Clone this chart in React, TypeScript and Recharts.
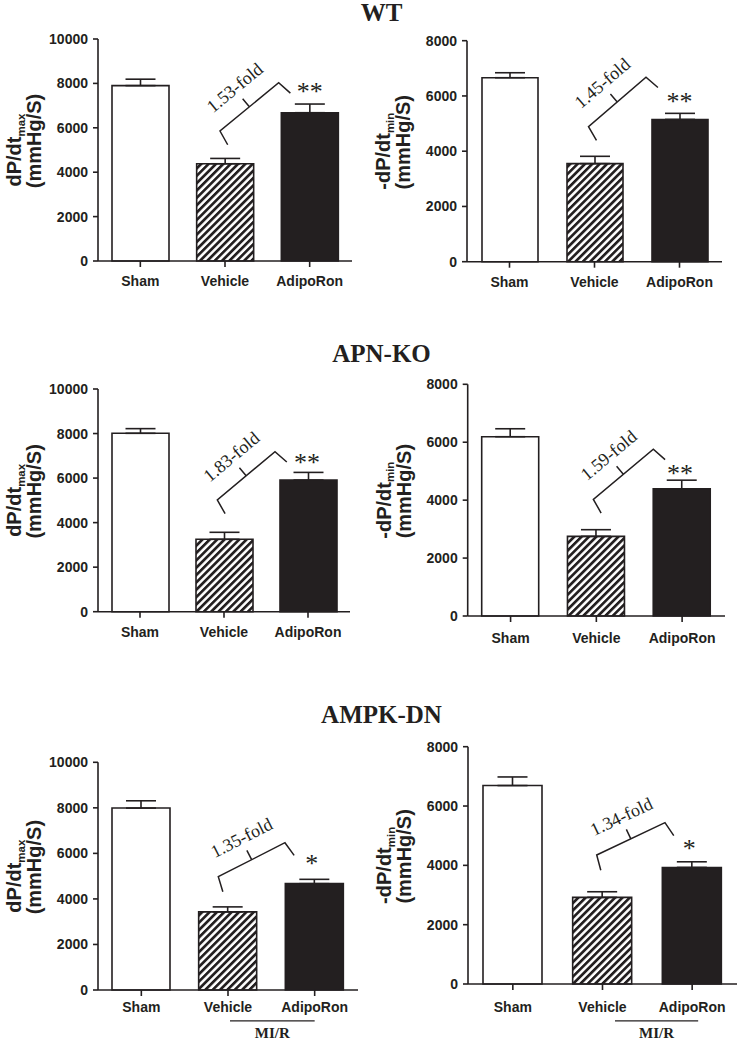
import React from "react";
import {
  BarChart,
  Bar,
  XAxis,
  YAxis,
  Cell,
  ErrorBar,
  ReferenceLine,
  ReferenceDot,
} from "recharts";

const groups = ["Sham", "Vehicle", "AdipoRon"];
const titles = ["WT", "APN-KO", "AMPK-DN"];

const wtMaxMean = [7900, 4380, 6680];
const wtMaxErr = [290, 240, 390];
const wtMinMean = [6660, 3550, 5150];
const wtMinErr = [180, 265, 220];
const koMaxMean = [8010, 3250, 5910];
const koMaxErr = [210, 315, 345];
const koMinMean = [6190, 2750, 4390];
const koMinErr = [275, 230, 300];
const dnMaxMean = [7990, 3430, 4670];
const dnMaxErr = [320, 220, 190];
const dnMinMean = [6690, 2920, 3930];
const dnMinErr = [290, 190, 190];

const maxTicks = [0, 2000, 4000, 6000, 8000, 10000];
const minTicks = [0, 2000, 4000, 6000, 8000];

const foldLabels = ["1.53-fold", "1.45-fold", "1.83-fold", "1.59-fold", "1.35-fold", "1.34-fold"];
const sigLabels = ["**", "**", "**", "**", "*", "*"];
const groupLabel = "MI/R";

const INK = "#231f20";
const SANS = "'Liberation Sans', Arial, sans-serif";
const SERIF = "'Liberation Serif', 'Times New Roman', serif";

const panels = [
  { mean: wtMaxMean, err: wtMaxErr, ticks: maxTicks, kind: "max" },
  { mean: wtMinMean, err: wtMinErr, ticks: minTicks, kind: "min" },
  { mean: koMaxMean, err: koMaxErr, ticks: maxTicks, kind: "max" },
  { mean: koMinMean, err: koMinErr, ticks: minTicks, kind: "min" },
  { mean: dnMaxMean, err: dnMaxErr, ticks: maxTicks, kind: "max" },
  { mean: dnMinMean, err: dnMinErr, ticks: minTicks, kind: "min" },
];

// page layout: cell [x, y, w, h], plot [left, top, right, bottom]
const layouts = [
  { cell: [0, 25, 368, 275], plot: [98, 39, 352, 261], barSize: 57, tickMargin: 9, brace: [5856, 8032, -5, -31], star: [0, 4], mir: null },
  { cell: [369, 25, 368, 275], plot: [467, 40.7, 722, 261.7], barSize: 56, tickMargin: 9.4, brace: [4887, 6675, -6, -33.5], star: [0, 3], mir: null },
  { cell: [0, 365, 368, 290], plot: [98, 389, 350, 611.7], barSize: 57, tickMargin: 9.4, brace: [5016, 7185, -6.7, -33], star: [-1, 1], mir: null },
  { cell: [369, 365, 368, 290], plot: [467.7, 384.3, 725, 616], barSize: 57, tickMargin: 11, brace: [4029, 5756, -3, -28.8], star: [-2, -2], mir: null },
  { cell: [0, 730, 368, 312], plot: [98, 762.3, 358, 990], barSize: 58, tickMargin: 5.8, brace: [4976, 6469, -9.7, -29.7], star: [-3, 7.5], mir: [2, 0] },
  { cell: [369, 730, 368, 312], plot: [468, 746.7, 737, 984], barSize: 59, tickMargin: 11.8, brace: [4349, 5438, -5.8, -27.2], star: [-3, 4.5], mir: [12.5, 6] },
];

const titleBaselines = [21, 362, 723];

const Y_AXIS_W = 60;
const X_AXIS_H = 30;

const yLabel = (kind: string) => (props: any) => {
  const vb = props.viewBox || {};
  const px = vb.x + vb.width;
  const cy = vb.y + vb.height / 2;
  return (
    <g fill={INK} fontFamily={SANS} fontWeight="bold">
      <text transform={`translate(${px - 77},${cy}) rotate(-90)`} textAnchor="middle" fontSize={20}>
        {kind === "min" ? "-dP/dt" : "dP/dt"}
        <tspan fontSize={11.5} dy={3.5}>
          {kind}
        </tspan>
      </text>
      <text transform={`translate(${px - 57},${cy - 9}) rotate(-90)`} textAnchor="middle" fontSize={20}>
        (mmHg/S)
      </text>
    </g>
  );
};

const xTick = (band: number, mir: number[] | null) => (props: any) => {
  const { x, y, payload, index } = props;
  const x1 = mir ? x + mir[0] : 0;
  const x2 = mir ? x + band + mir[1] : 0;
  return (
    <g>
      <text x={x} y={y} dy="0.71em" textAnchor="middle" fontFamily={SANS} fontWeight="bold" fontSize={14} fill={INK}>
        {payload.value}
      </text>
      {mir && index === 1 && (
        <g>
          <line x1={x1} y1={y + 19} x2={x2} y2={y + 19} stroke={INK} strokeWidth={1.3} />
          <text x={(x1 + x2) / 2} y={y + 36} textAnchor="middle" fontFamily={SERIF} fontWeight="bold" fontSize={15} fill={INK}>
            {groupLabel}
          </text>
        </g>
      )}
    </g>
  );
};

// rotated bracket between the Vehicle and AdipoRon ends, fold text above its middle
const braceShape = (label: string, dx1: number, dx2: number) => (props: any) => {
  const ax = props.x1 + dx1;
  const ay = props.y1;
  const bx = props.x2 + dx2;
  const by = props.y2;
  const L = Math.hypot(bx - ax, by - ay);
  const ang = (Math.atan2(by - ay, bx - ax) * 180) / Math.PI;
  const m = L / 2;
  return (
    <g transform={`translate(${ax},${ay}) rotate(${ang})`}>
      <path
        d={`M -2.8 15.5 L 0 0 L ${L} 0 L ${L + 2.4} 15.5 M ${m} 0 L ${m} -10.5`}
        fill="none"
        stroke={INK}
        strokeWidth={1.5}
      />
      <text x={m + 1} y={-18} textAnchor="middle" fontFamily={SERIF} fontSize={18} fill={INK}>
        {label}
      </text>
    </g>
  );
};

const starShape = (label: string, dx: number, off: number) => (props: any) => (
  <text x={props.cx + dx} y={props.cy - off} textAnchor="middle" fontFamily={SERIF} fontSize={26} fill={INK}>
    {label}
  </text>
);

function Panel({ idx }: { idx: number }) {
  const p = panels[idx];
  const l = layouts[idx];
  const [cx, cy, cw, ch] = l.cell;
  const [pl, pt, pr, pb] = l.plot;
  const margin = {
    left: pl - cx - Y_AXIS_W,
    top: pt - cy,
    right: cx + cw - pr,
    bottom: cy + ch - pb - X_AXIS_H,
  };
  const band = (pr - pl) / groups.length;
  const data = groups.map((g, i) => ({ group: g, value: p.mean[i], err: [0, p.err[i]] }));
  const hatchId = `hatch-${idx}`;
  const fills = ["#ffffff", `url(#${hatchId})`, INK];
  const yMax = p.ticks[p.ticks.length - 1];

  return (
    <div style={{ position: "absolute", left: cx, top: cy }}>
      <BarChart width={cw} height={ch} data={data} margin={margin}>
        <defs>
          <pattern id={hatchId} patternUnits="userSpaceOnUse" width={5.2} height={5.2} patternTransform="rotate(45)">
            <rect x={0} y={0} width={5.2} height={5.2} fill="#ffffff" />
            <rect x={0} y={0} width={2.7} height={5.2} fill={INK} />
          </pattern>
        </defs>
        <XAxis
          dataKey="group"
          height={X_AXIS_H}
          interval={0}
          axisLine={{ stroke: INK, strokeWidth: 1.6 }}
          tickLine={{ stroke: INK, strokeWidth: 1.6 }}
          tickSize={6}
          tickMargin={l.tickMargin}
          tick={xTick(band, l.mir)}
        />
        <YAxis
          width={Y_AXIS_W}
          domain={[0, yMax]}
          ticks={p.ticks}
          interval={0}
          axisLine={{ stroke: INK, strokeWidth: 1.6 }}
          tickLine={{ stroke: INK, strokeWidth: 1.6 }}
          tickSize={5}
          tickMargin={5}
          tick={{ fill: INK, fontSize: 14, fontWeight: "bold", fontFamily: SANS }}
          label={yLabel(p.kind)}
        />
        <Bar dataKey="value" barSize={l.barSize} stroke={INK} strokeWidth={1.6} isAnimationActive={false}>
          {data.map((d, i) => (
            <Cell key={d.group} fill={fills[i]} />
          ))}
          <ErrorBar dataKey="err" width={15} stroke={INK} strokeWidth={1.6} direction="y" />
        </Bar>
        <ReferenceLine
          segment={[
            { x: groups[1], y: l.brace[0] },
            { x: groups[2], y: l.brace[1] },
          ]}
          ifOverflow="visible"
          shape={braceShape(foldLabels[idx], l.brace[2], l.brace[3])}
        />
        <ReferenceDot
          x={groups[2]}
          y={p.mean[2] + p.err[2]}
          r={0}
          ifOverflow="visible"
          shape={starShape(sigLabels[idx], l.star[0], l.star[1])}
        />
      </BarChart>
    </div>
  );
}

export default function App() {
  return (
    <div style={{ position: "absolute", left: 0, top: 0, width: 737, height: 1042, background: "#ffffff" }}>
      <svg width={737} height={1042} style={{ position: "absolute", left: 0, top: 0 }}>
        {titles.map((t, i) => (
          <text
            key={t}
            x={381.5}
            y={titleBaselines[i]}
            textAnchor="middle"
            fontFamily={SERIF}
            fontWeight="bold"
            fontSize={25}
            fill={INK}
          >
            {t}
          </text>
        ))}
      </svg>
      {panels.map((_, i) => (
        <Panel key={i} idx={i} />
      ))}
    </div>
  );
}
